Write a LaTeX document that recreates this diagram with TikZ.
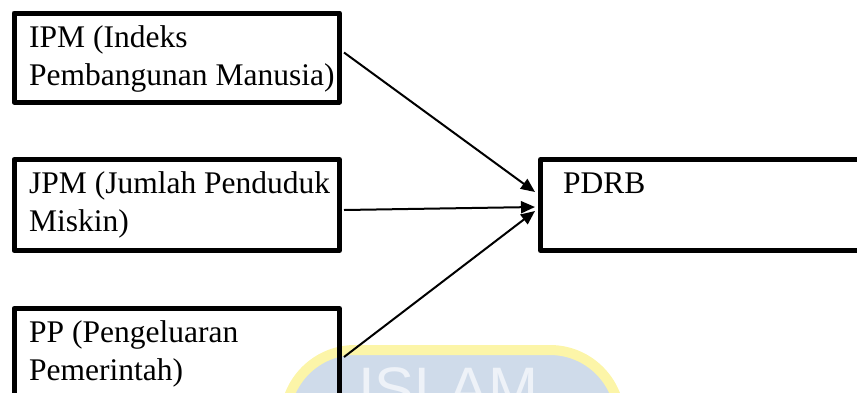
\documentclass[tikz,border=0pt]{standalone}
\usepackage{fontspec}
\setmainfont{Liberation Serif}
\newfontfamily\wmfont{Liberation Sans}
\usetikzlibrary{arrows.meta,calc}
\definecolor{wmblue}{HTML}{CFDBEA}
\definecolor{wmyellow}{HTML}{FCF5A8}
\definecolor{wmletter}{HTML}{EEF2F8}
\begin{document}
\begin{tikzpicture}[x=1pt,y=-1pt,
  box/.style={draw,line width=5pt,line join=round,inner sep=0pt,anchor=north west},
  lbl/.style={anchor=base west,inner sep=0pt,font=\fontsize{31.5}{38}\selectfont},
  conn/.style={line width=2pt,-{Triangle[length=14pt,width=12pt]}}]
\useasboundingbox (0,0) rectangle (857,392);
\clip (0,0) rectangle (857,392);
% watermark
\draw[wmyellow,line width=10pt,fill=wmblue,rounded corners=70pt] (285,350) rectangle (620,480);
\node[anchor=base west,inner sep=0pt,text=wmletter,font=\wmfont\fontsize{60}{60}\selectfont] (wm) at (358,409) {ISLAM};
% boxes
\node[box,minimum width=325.5pt,minimum height=89pt] (b1) at (11.5,10.5) {};
\node[box,minimum width=325.5pt,minimum height=91pt] (b2) at (11.5,157) {};
\node[box,minimum width=325.5pt,minimum height=160pt] (b3) at (11.5,306) {};
\node[box,minimum width=400pt,minimum height=91pt] (pd) at (538,157) {};
% texts
\node[lbl] (t1a) at (29,47) {IPM (Indeks};
\node[lbl] (t1b) at (29,85) {Pembangunan Manusia)};
\node[lbl] (t2a) at (29,193.5) {JPM (Jumlah Penduduk};
\node[lbl] (t2b) at (29,231.5) {Miskin)};
\node[lbl] (t3a) at (29,342.5) {PP (Pengeluaran};
\node[lbl] (t3b) at (29,380.5) {Pemerintah)};
\node[lbl] (t4) at (563,193.5) {PDRB};
% connectors
\draw[conn] ($(b1.north east)+(2,42)$) -- ($(pd.north west)+(-3,35)$);
\draw[conn] ($(b2.north east)+(2,53)$) -- ($(pd.north west)+(-3,50)$);
\draw[conn] ($(b3.north east)+(2,51)$) -- ($(pd.north west)+(-3,54)$);
\end{tikzpicture}
\end{document}
